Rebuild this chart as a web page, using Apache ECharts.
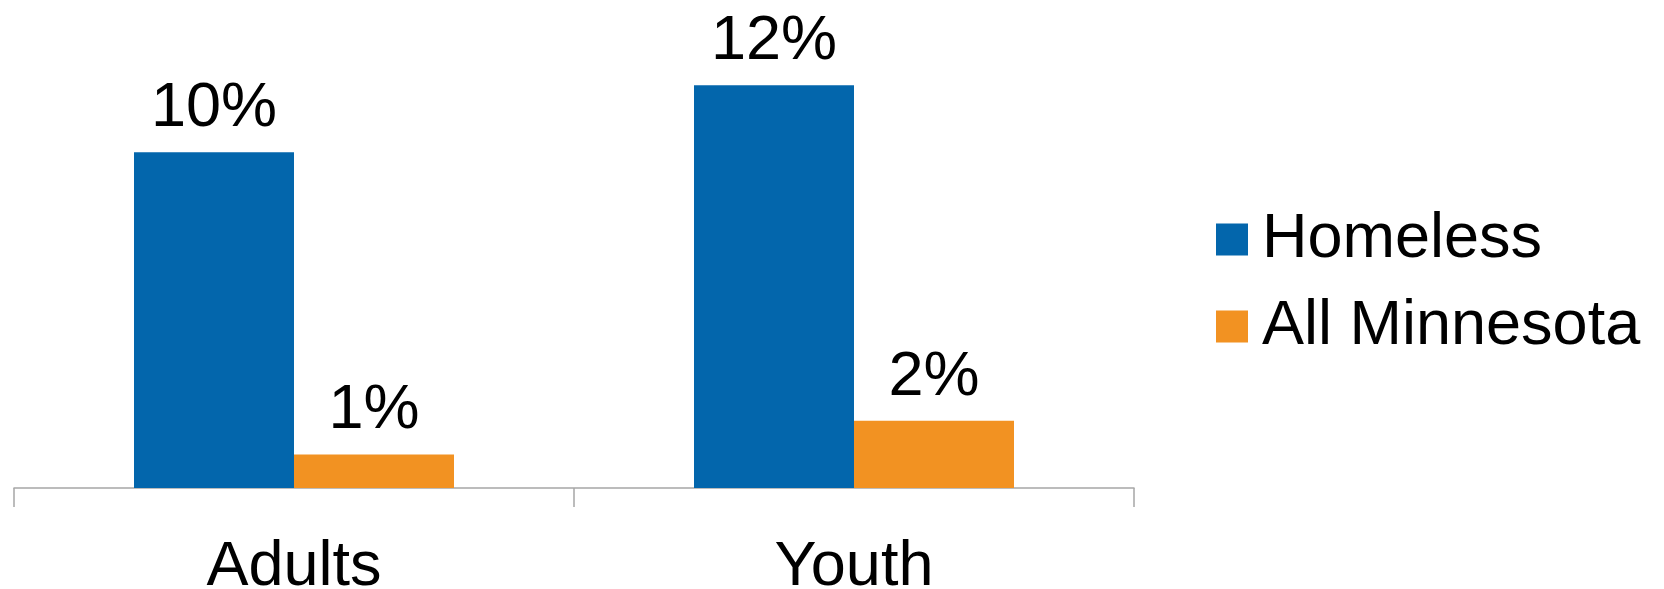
<!DOCTYPE html>
<html>
<head>
<meta charset="utf-8">
<script src="https://cdn.jsdelivr.net/npm/echarts@6/dist/echarts.min.js"></script>
<style>
html,body{margin:0;padding:0;background:#fff;}
#chart{width:1664px;height:589px;}
</style>
</head>
<body>
<div id="chart"></div>
<script>
const categories = ['Adults', 'Youth'];
const homeless = [10, 12];
const allMinnesota = [1, 2];
const seriesNames = ['Homeless', 'All Minnesota'];

const FONT = '"Liberation Sans", Arial, sans-serif';
const chart = echarts.init(document.getElementById('chart'), null, {renderer: 'canvas'});
const labelStyle = {
  show: true,
  position: 'top',
  distance: 12,
  formatter: '{c}%',
  fontFamily: FONT,
  fontSize: 63,
  color: '#000'
};
chart.setOption({
  animation: false,
  backgroundColor: '#fff',
  grid: {left: 14, top: 18, width: 1120, bottom: 101, containLabel: false, outerBoundsMode: 'none'},
  legend: {
    orient: 'vertical',
    left: 1211,
    top: 203,
    itemWidth: 32,
    itemHeight: 32,
    itemGap: 24,
    icon: 'rect',
    textStyle: {fontFamily: FONT, fontSize: 63, color: '#000', padding: [0, 0, 0, 9]},
    data: seriesNames
  },
  xAxis: {
    type: 'category',
    data: categories,
    boundaryGap: true,
    axisLine: {lineStyle: {color: '#a6a6a6', width: 1.5}},
    axisTick: {show: true, length: 19, lineStyle: {color: '#a6a6a6', width: 1.5}},
    axisLabel: {fontFamily: FONT, fontSize: 63, color: '#000', margin: 48}
  },
  yAxis: {
    type: 'value',
    min: 0,
    max: 14,
    show: false,
    splitLine: {show: false}
  },
  series: [
    {
      name: seriesNames[0],
      type: 'bar',
      data: homeless,
      barWidth: 160,
      barGap: '0%',
      itemStyle: {color: '#0366AC'},
      label: labelStyle
    },
    {
      name: seriesNames[1],
      type: 'bar',
      data: allMinnesota,
      barWidth: 160,
      barGap: '0%',
      itemStyle: {color: '#F29222'},
      label: labelStyle
    }
  ]
});
</script>
</body>
</html>
